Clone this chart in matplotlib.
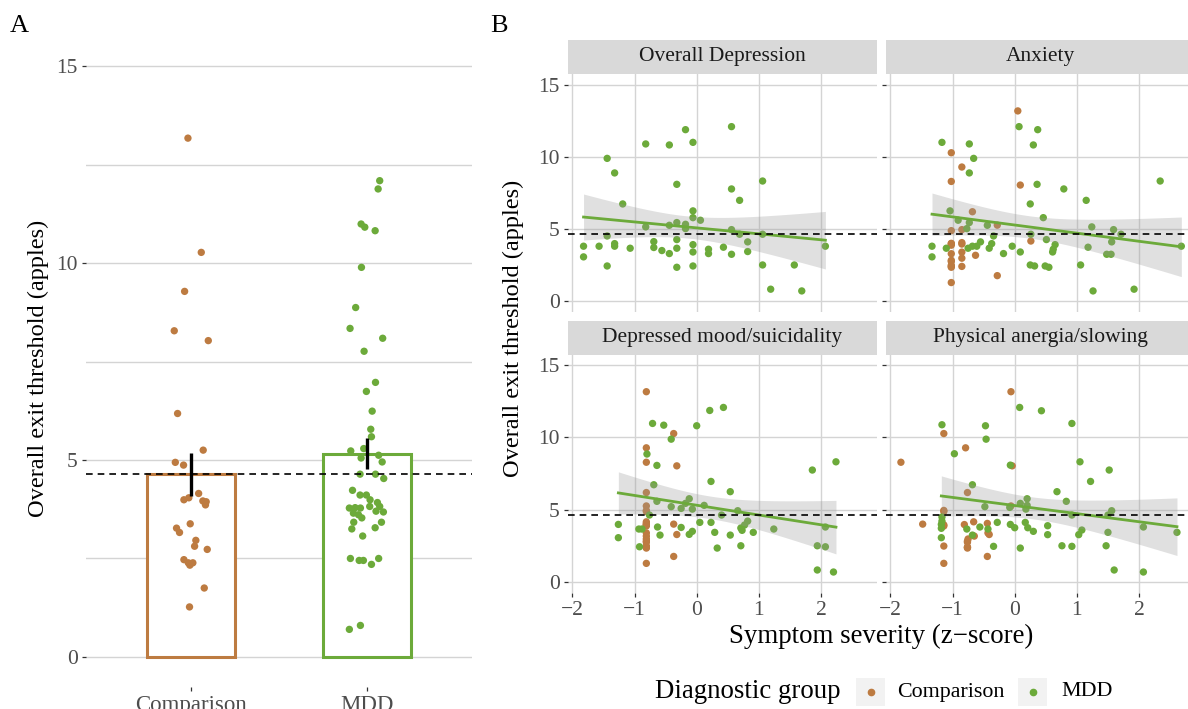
import numpy as np
import matplotlib
matplotlib.use("Agg")
import matplotlib.pyplot as plt
from matplotlib.patches import Rectangle
from matplotlib.lines import Line2D

plt.rcParams['font.family'] = ['Liberation Serif', 'DejaVu Serif']

# ---- data ----
groups = ["Comparison", "MDD"]
ref_threshold = 4.65

# panel A: exit thresholds per participant (+ horizontal jitter)
comparison_thr = [13.17, 10.27, 9.28, 8.28, 8.03, 6.18, 5.25, 4.94, 4.87, 4.15, 3.99, 4.04, 3.96,
                  3.94, 3.86, 3.38, 3.27, 3.16, 2.96, 2.81, 2.73, 2.47, 2.39, 2.39, 2.33, 1.75, 1.27]
comparison_jit = [-0.019, 0.057, -0.038, -0.097, 0.097, -0.078, 0.068, -0.091, -0.044, 0.042, -0.042,
                  -0.014, 0.066, 0.085, 0.081, -0.006, -0.084, -0.067, 0.026, 0.019, 0.091, -0.042,
                  -0.017, 0.009, -0.008, 0.074, -0.010]
mdd_thr = [12.09, 11.88, 10.99, 10.91, 10.82, 9.89, 8.87, 8.34, 8.09, 7.76, 6.97, 6.74, 6.24, 5.78,
           5.59, 5.29, 5.23, 5.05, 5.12, 4.95, 4.64, 4.64, 4.53, 4.23, 4.11, 4.11, 3.99, 3.92, 3.78,
           3.79, 3.78, 3.82, 3.82, 3.65, 3.61, 3.70, 3.68, 3.42, 3.53, 3.25, 3.28, 3.42, 3.07, 2.50,
           2.45, 2.45, 2.35, 2.50, 0.70, 0.80]
mdd_jit = [0.074, 0.065, -0.032, -0.011, 0.048, -0.030, -0.063, -0.095, 0.091, -0.015, 0.050, -0.002,
           0.031, 0.023, 0.027, -0.017, -0.091, -0.032, 0.068, 0.088, -0.038, 0.050, 0.097, -0.081,
           -0.038, -0.002, 0.019, 0.061, -0.099, -0.066, -0.036, 0.017, 0.074, -0.076, -0.047, 0.053,
           0.095, -0.074, -0.028, -0.085, 0.048, 0.084, -0.023, -0.093, -0.043, -0.019, 0.027, 0.068,
           -0.099, -0.036]

# panel B: symptom z-scores
facets = ["Overall Depression", "Anxiety", "Depressed mood/suicidality", "Physical anergia/slowing"]

# comparison group z-scores (same order as comparison_thr); none for Overall Depression
anx_comp_x = [0.05, -1.02, -0.85, -1.02, 0.09, -0.68, -0.28, -0.85, -1.02, 0.26, -1.02, -0.85, -1.02,
              -0.85, -1.02, -0.85, -1.02, -0.63, -0.85, -1.02, -1.02, -1.02, -0.85, -1.02, -1.02, -0.28, -1.02]
mood_comp_x = [-0.81, -0.37, -0.81, -0.81, -0.32, -0.81, -0.81, -0.81, -0.81, -0.81, -0.37, -0.81, -0.81,
               -0.81, -0.81, -0.81, -0.32, -0.81, -0.81, -0.81, -0.81, -0.81, -0.81, -0.81, -0.81, -0.37, -0.81]
phys_comp_x = [-0.06, -1.14, -0.79, -1.83, -0.04, -0.76, -0.06, -1.14, -1.14, -0.66, -1.48, -0.44, -0.81,
               -1.14, -1.14, -0.43, -0.41, -0.65, -0.75, -0.76, -0.76, -1.14, -0.76, -0.76, -0.76, -0.44, -1.14]

# MDD group (z-score, threshold) per facet
dep_x = [-1.44, -1.32, -1.19, -0.82, -0.44, -0.18, -0.06, 0.56, -0.32, 0.56, 1.06, 0.69, -0.06, -0.06,
         0.06, -0.82, -0.44, -0.32, -0.18, -0.18, 0.56, 0.69, 1.06, -1.44, -1.82, -1.57, -1.32, -1.32,
         -1.07, -1.82, -0.69, -0.69, -0.56, -0.44, -0.32, -0.32, -0.06, -0.06, 0.19, 0.19, 0.43, 0.56,
         0.82, 0.82, 2.07, -1.44, -0.32, -0.06, 1.06, 1.57, 1.19, 1.69]
dep_y = [9.88, 8.87, 6.72, 10.88, 10.81, 11.87, 10.99, 12.08, 8.08, 7.76, 8.31, 6.97, 6.24, 5.77,
         5.59, 5.13, 5.24, 5.43, 5.31, 5.01, 4.94, 4.62, 4.62, 4.50, 3.79, 3.79, 3.97, 3.79,
         3.65, 3.05, 4.11, 3.70, 3.49, 3.28, 4.25, 3.65, 3.90, 3.39, 3.58, 3.28, 3.72, 3.23,
         4.09, 3.42, 3.79, 2.42, 2.33, 2.42, 2.49, 2.49, 0.81, 0.69]

anx_x = [-1.17, -0.73, -0.66, -0.73, 0.07, 0.37, 0.30, 0.36, 0.79, 2.34, 1.15, 0.25, -1.04, 0.46,
         -0.91, -0.73, -0.77, -0.44, 1.24, 1.59, 1.71, 0.26, -0.34, -1.33, -1.33, -1.10, -0.75,
         -0.68, -0.61, -0.55, -0.37, -0.41, -0.18, -0.04, 0.09, 0.51, 0.65, 0.62, 0.61, 1.18, 1.56,
         1.48, 1.55, 2.68, 0.25, 0.32, 0.49, 0.55, 1.06, 1.26, 1.92]
anx_y = [10.99, 10.88, 9.88, 8.87, 12.08, 11.87, 10.81, 8.08, 7.76, 8.31, 6.97, 6.72, 6.24, 5.77,
         5.59, 5.43, 5.01, 5.24, 5.13, 4.94, 4.62, 4.62, 4.50, 3.79, 3.05, 3.65, 3.65,
         3.79, 3.79, 4.09, 3.97, 3.65, 3.28, 3.79, 3.39, 4.25, 3.90, 3.58, 3.39, 3.72, 4.09,
         3.23, 3.23, 3.79, 2.49, 2.42, 2.42, 2.33, 2.49, 0.69, 0.81]

mood_x = [-0.71, -0.53, 0.00, 0.21, 0.43, -0.41, -0.80, -0.64, 1.86, 2.24, 0.23, -0.69, 0.54, -0.64,
          -0.12, -0.18, -0.41, -0.25, -0.07, 0.12, 0.66, -0.76, 0.40, 0.82, 0.77, 0.05, 0.23, -1.26,
          -1.26, -0.93, -0.88, -0.63, -0.59, -0.25, -0.12, -0.07, 0.29, 0.54, 0.71, 0.73, 0.91, 1.24,
          2.07, -0.92, 0.33, 0.71, 1.94, 2.07, 1.94, 2.20]
mood_y = [10.97, 10.85, 10.81, 11.87, 12.08, 9.88, 8.85, 8.06, 7.74, 8.31, 6.95, 6.72, 6.24, 5.57,
          5.75, 5.43, 5.20, 5.08, 5.03, 5.29, 4.92, 4.62, 4.62, 4.20, 3.93, 4.11, 4.11, 3.97,
          3.05, 3.65, 3.65, 3.79, 3.23, 3.76, 3.28, 3.49, 3.42, 3.23, 3.72, 3.56, 3.42, 3.65,
          3.79, 2.42, 2.33, 2.49, 2.49, 2.42, 0.81, 0.67]

phys_x = [0.08, 0.43, 0.92, -1.17, -0.47, -0.46, -0.97, -0.07, 1.05, 1.52, 1.22, -0.68, 0.68, 0.83,
          0.20, 0.09, -0.48, 0.20, 0.18, -0.08, 1.56, 1.50, 0.92, -1.17, -1.17, -1.18, -1.18, -1.18,
          -0.77, -0.56, -0.43, -0.28, -0.07, 0.00, 0.17, 0.21, 0.30, 0.53, 0.53, 1.08, 1.03, 1.50,
          2.07, 2.61, -0.68, -0.34, 0.09, 0.76, 0.92, 1.47, 1.60, 2.07]
phys_y = [12.08, 11.85, 10.97, 10.88, 10.81, 9.88, 8.87, 8.08, 8.31, 7.74, 6.95, 6.72, 6.24, 5.57,
          5.75, 5.43, 5.20, 5.29, 5.03, 5.15, 4.92, 4.62, 4.62, 4.48, 4.20, 3.97, 3.70, 3.05,
          3.65, 3.79, 3.65, 4.11, 3.97, 3.74, 4.11, 3.74, 3.49, 3.88, 3.26, 3.58, 3.26, 3.42,
          3.79, 3.42, 3.23, 2.45, 2.33, 2.49, 2.45, 2.49, 0.81, 0.67]

facet_mdd = [(dep_x, dep_y), (anx_x, anx_y), (mood_x, mood_y), (phys_x, phys_y)]
facet_comp = [None, anx_comp_x, mood_comp_x, phys_comp_x]

# ---- style ----
col_comp = "#BD7B41"
col_mdd = "#6CAA3A"
grid_col = "#D4D4D4"
tick_col = "#4D4D4D"
W, H = 1188, 709

fig = plt.figure(figsize=(W / 100, H / 100), dpi=100)


def px_axes(left, top, right, bottom):
    return fig.add_axes([left / W, 1 - bottom / H, (right - left) / W, (bottom - top) / H])


def style(ax):
    for s in ax.spines.values():
        s.set_visible(False)
    ax.set_axisbelow(True)
    ax.tick_params(length=3, width=0.9, color="#333333", labelcolor=tick_col, labelsize=15.5, pad=3)


# ---- panel A ----
axA = px_axes(86, 36.5, 472, 686.5)
style(axA)
axA.set_xlim(0.4, 2.6)
axA.set_ylim(-0.75, 15.75)
axA.set_yticks([0, 5, 10, 15])
axA.set_yticks([2.5, 7.5, 12.5], minor=True)
axA.tick_params(axis="y", which="minor", length=0)
axA.grid(True, axis="y", which="both", color=grid_col, lw=1.0)
axA.set_xticks([1, 2])
axA.set_xticklabels(groups, fontsize=16.5)

for i, (vals, jit, c) in enumerate([(comparison_thr, comparison_jit, col_comp),
                                    (mdd_thr, mdd_jit, col_mdd)]):
    vals = np.array(vals)
    m = vals.mean()
    se = vals.std(ddof=1) / np.sqrt(len(vals))
    axA.bar(i + 1, m, width=0.5, facecolor="white", edgecolor=c, lw=2.2, zorder=2)
    axA.scatter(i + 1 + np.array(jit), vals, s=28, color=c, edgecolors="none", zorder=3)
    axA.plot([i + 1, i + 1], [m - se, m + se], color="black", lw=2.4, zorder=4,
             solid_capstyle="butt")
axA.axhline(ref_threshold, color="black", lw=1.2, ls=(0, (4, 3)), zorder=5)
fig.text(38 / W, 1 - 368 / H, "Overall exit threshold (apples)", rotation=90, ha="center",
         va="center", fontsize=17.6)

# ---- panel B ----
cols = [(568, 877), (886, 1195)]
rows = [(40, 73.7, 311.7), (321, 354.5, 592.5)]

for k, name in enumerate(facets):
    r, c = divmod(k, 2)
    l, rr = cols[c]
    st, pt, pb = rows[r]
    strip = px_axes(l, st, rr, pt)
    strip.set_facecolor("#D9D9D9")
    strip.set_xticks([])
    strip.set_yticks([])
    for s in strip.spines.values():
        s.set_visible(False)
    strip.text(0.5, 0.5, name, transform=strip.transAxes, ha="center", va="center",
               fontsize=15.5, color="#1A1A1A")

    ax = px_axes(l, pt, rr, pb)
    style(ax)
    ax.grid(True, color=grid_col, lw=1.0)
    ax.set_xlim(-2.07, 2.9)
    ax.set_ylim(-0.75, 15.75)
    ax.set_xticks([-2, -1, 0, 1, 2])
    ax.set_yticks([0, 5, 10, 15])
    if c == 1:
        ax.set_yticklabels([])
    if r == 0:
        ax.tick_params(axis="x", length=0, labelbottom=False)

    mx, my = np.array(facet_mdd[k][0]), np.array(facet_mdd[k][1])
    if facet_comp[k] is not None:
        ax.scatter(facet_comp[k], comparison_thr, s=28, color=col_comp, edgecolors="none", zorder=3)
    ax.scatter(mx, my, s=28, color=col_mdd, edgecolors="none", zorder=3)

    # linear fit with 95% confidence band (MDD only)
    n = len(mx)
    b1, b0 = np.polyfit(mx, my, 1)
    xs = np.linspace(mx.min(), mx.max(), 100)
    fit = b0 + b1 * xs
    resid = my - (b0 + b1 * mx)
    s2 = np.sum(resid ** 2) / (n - 2)
    sxx = np.sum((mx - mx.mean()) ** 2)
    se_fit = np.sqrt(s2 * (1 / n + (xs - mx.mean()) ** 2 / sxx))
    ax.fill_between(xs, fit - 2.01 * se_fit, fit + 2.01 * se_fit, color="#999999", alpha=0.3,
                    lw=0, zorder=4)
    ax.plot(xs, fit, color=col_mdd, lw=2.0, zorder=5)
    ax.axhline(ref_threshold, color="black", lw=1.2, ls=(0, (4, 3)), zorder=6)

fig.text(513 / W, 1 - 328 / H, "Overall exit threshold (apples)", rotation=90, ha="center",
         va="center", fontsize=17.6)
fig.text(881 / W, 1 - 636 / H, "Symptom severity (z\u2212score)", ha="center", va="center",
         fontsize=19.4)

# panel tags
fig.text(10 / W, 1 - 26 / H, "A", fontsize=19, ha="left", va="center")
fig.text(490 / W, 1 - 26 / H, "B", fontsize=19, ha="left", va="center")

# legend (title on the left, as in ggplot)
ly = 1 - 692 / H
fig.text(655 / W, ly, "Diagnostic group", ha="left", va="center", fontsize=19.4)
for lab, c, bx, tx in [(groups[0], col_comp, 856, 897), (groups[1], col_mdd, 1018, 1061)]:
    fig.add_artist(Rectangle((bx / W, 1 - 706 / H), 29 / W, 28 / H, transform=fig.transFigure,
                             facecolor="#F2F2F2", edgecolor="none"))
    fig.add_artist(Line2D([(bx + 14.5) / W], [ly], marker="o", markersize=4.5, color=c,
                          transform=fig.transFigure, lw=0))
    fig.text(tx / W, ly, lab, ha="left", va="center", fontsize=15.8)

fig.savefig("out.png", dpi=100)
